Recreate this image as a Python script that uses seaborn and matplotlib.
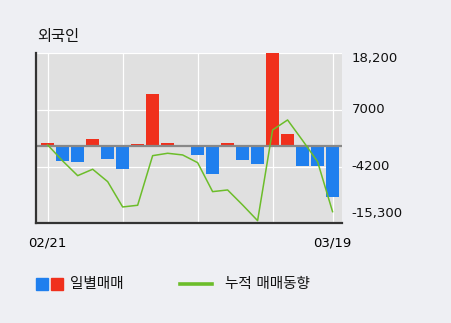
import matplotlib
matplotlib.use("Agg")
import matplotlib.pyplot as plt
import seaborn as sns
import pandas as pd
from matplotlib.patches import Rectangle
from matplotlib.lines import Line2D

# ---- data ----
dates = ["02/21", "02/24", "02/25", "02/26", "02/27", "02/28", "03/02", "03/03",
         "03/04", "03/05", "03/06", "03/09", "03/10", "03/11", "03/12", "03/13",
         "03/16", "03/17", "03/18", "03/19"]
daily = [530, -2950, -3210, 1320, -2555, -4525, 335, 10190, 530, 0,
         -1830, -5510, 530, -2750, -3540, 18200, 2305, -4000, -4000, -10045]
cumulative = [140, -3015, -5910, -4650, -7090, -12080, -11745, -1970, -1500, -1830,
              -3350, -9060, -8730, -11685, -14780, 3095, 5065, 1025, -3150, -13005]
y_ticks = [18200, 7033, -4133, -15300]
y_tick_labels = ["18,200", "7000", "-4200", "-15,300"]
x_tick_idx = [0, 5, 10, 15, 19]
x_tick_labels = ["02/21", "", "", "", "03/19"]
title = "외국인"
legend_labels = ["일별매매", "누적 매매동향"]

RED = "#f0301c"
BLUE = "#1f7fee"
GREEN = "#6cbd2a"
FIG_BG = "#eeeff3"
AX_BG = "#e0e0e0"

plt.rcParams["font.family"] = ["DejaVu Sans", "Noto Sans CJK KR"]

df = pd.DataFrame({"date": dates, "daily": daily, "cum": cumulative})
df["idx"] = range(len(df))
df["sign"] = ["pos" if v >= 0 else "neg" for v in daily]

fig = plt.figure(figsize=(4.51, 3.23), dpi=100, facecolor=FIG_BG)
ax = fig.add_axes([36 / 451, 1 - 223.3 / 323, (342 - 36) / 451, (223.3 - 53.3) / 323])
ax.set_facecolor(AX_BG)

sns.barplot(data=df, x="date", y="daily", hue="sign",
            palette={"pos": RED, "neg": BLUE}, width=0.87, dodge=False,
            saturation=1, legend=False, ax=ax, zorder=3, linewidth=0)
sns.lineplot(x=df["idx"], y=df["cum"], color=GREEN, linewidth=1.1, ax=ax, zorder=5)
ax.axhline(0, color="#888888", linewidth=1.6, zorder=4)

ax.set_xlim(-0.78, 19.63)
ax.set_ylim(-15300, 18200)
ax.set_xlabel("")
ax.set_ylabel("")

ax.set_yticks(y_ticks)
ax.set_yticklabels([])
ax.set_xticks(x_tick_idx)
ax.set_xticklabels(x_tick_labels, fontsize=9.5)
ax.tick_params(axis="x", length=0, pad=9.5)
ax.tick_params(axis="y", length=0)
ax.grid(True, color="white", linewidth=0.9, zorder=0)
ax.set_axisbelow(True)

for s in ["top", "right"]:
    ax.spines[s].set_visible(False)
for s in ["left", "bottom"]:
    ax.spines[s].set_color("#333333")
    ax.spines[s].set_linewidth(1.6)
    ax.spines[s].set_zorder(6)

# right-hand value labels
offsets = [-4.1, 0, 0, 6.7]
for v, lab, dy in zip(y_ticks, y_tick_labels, offsets):
    ax.annotate(lab, xy=(1, v), xycoords=("axes fraction", "data"),
                xytext=(7, dy), textcoords="offset points",
                ha="left", va="center", fontsize=9.5, color="#111111")

fig.text(37 / 451, 1 - 37 / 323, title, fontsize=11, ha="left", va="center", color="#111111")

# legend
ly = 1 - 283.5 / 323
sq = 12
fig.patches.append(Rectangle((36 / 451, ly - sq / 2 / 323), sq / 451, sq / 323,
                             transform=fig.transFigure, color=BLUE))
fig.patches.append(Rectangle((51 / 451, ly - sq / 2 / 323), sq / 451, sq / 323,
                             transform=fig.transFigure, color=RED))
fig.text(70 / 451, ly, legend_labels[0], fontsize=10.5, ha="left", va="center", color="#111111")
fig.lines.append(Line2D([180 / 451, 211.7 / 451], [ly, ly], transform=fig.transFigure,
                        color=GREEN, linewidth=2.6))
fig.text(225 / 451, ly, legend_labels[1], fontsize=10.5, ha="left", va="center", color="#111111")

fig.savefig("out.png", dpi=100, facecolor=FIG_BG)
